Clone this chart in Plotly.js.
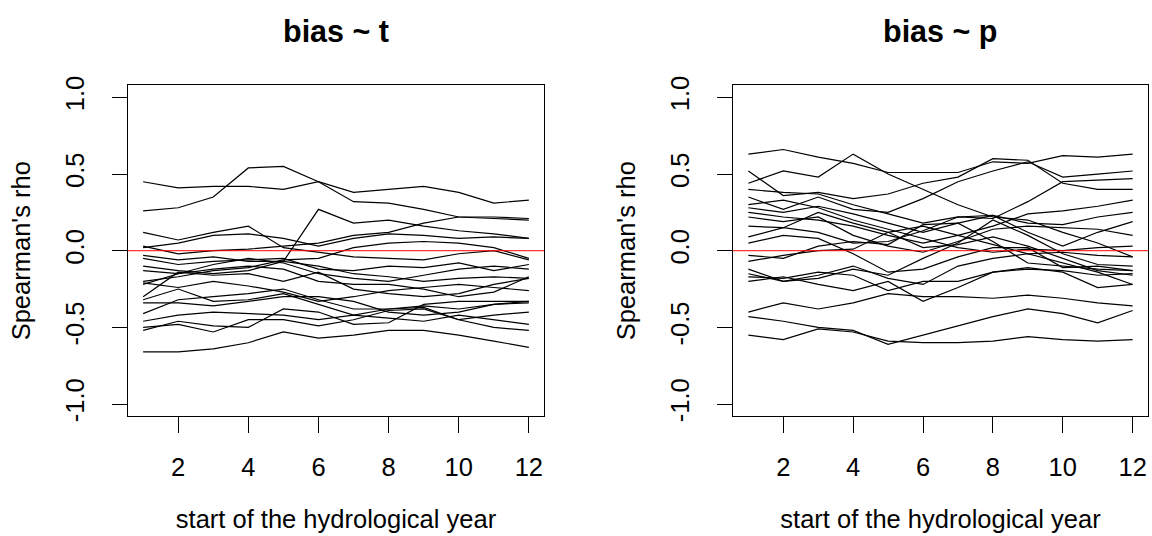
<!DOCTYPE html>
<html>
<head>
<meta charset="utf-8">
<script src="https://cdn.plot.ly/plotly-3.0.1.min.js"></script>
<style>html,body{margin:0;padding:0;background:#fff;} #plot{width:1152px;height:536px;}</style>
</head>
<body>
<div id="plot"></div>
<script>
// x values: start month of the hydrological year
var months = [1,2,3,4,5,6,7,8,9,10,11,12];
var xTickVals = [2,4,6,8,10,12];
var yTickVals = [-1,-0.5,0,0.5,1];
var yTickText = ["-1.0","-0.5","0.0","0.5","1.0"];
var titleT = "bias ~ t";
var titleP = "bias ~ p";
var xLabel = "start of the hydrological year";
var yLabel = "Spearman's rho";

// Spearman's rho, bias ~ t (one array per station)
var t01 = [0.45, 0.41, 0.42, 0.42, 0.40, 0.45, 0.38, 0.40, 0.42, 0.38, 0.31, 0.33];
var t02 = [0.26, 0.28, 0.35, 0.54, 0.55, 0.45, 0.32, 0.31, 0.27, 0.22, 0.21, 0.20];
var t03 = [-0.03, -0.06, -0.04, -0.07, -0.07, 0.27, 0.18, 0.20, 0.16, 0.13, 0.11, 0.08];
var t04 = [0.12, 0.07, 0.12, 0.16, 0.02, -0.01, -0.04, -0.05, -0.06, -0.02, 0.00, -0.06];
var t05 = [0.03, -0.02, 0.00, 0.01, 0.03, 0.05, 0.10, 0.12, 0.18, 0.22, 0.22, 0.21];
var t06 = [-0.10, -0.13, -0.15, -0.13, -0.07, -0.10, -0.15, -0.17, -0.20, -0.18, -0.17, -0.18];
var t07 = [-0.13, -0.15, -0.09, -0.05, -0.08, -0.15, -0.18, -0.20, -0.16, -0.12, -0.10, -0.12];
var t08 = [-0.20, -0.17, -0.13, -0.11, -0.06, -0.05, 0.02, 0.05, 0.06, 0.05, 0.02, -0.05];
var t09 = [-0.22, -0.15, -0.12, -0.10, -0.12, -0.20, -0.22, -0.22, -0.25, -0.30, -0.27, -0.17];
var t10 = [-0.30, -0.14, -0.16, -0.15, -0.20, -0.14, -0.25, -0.28, -0.30, -0.28, -0.22, -0.18];
var t11 = [-0.32, -0.25, -0.33, -0.32, -0.28, -0.35, -0.42, -0.38, -0.36, -0.38, -0.35, -0.33];
var t12 = [-0.34, -0.34, -0.36, -0.33, -0.30, -0.30, -0.33, -0.40, -0.42, -0.40, -0.35, -0.34];
var t13 = [-0.41, -0.32, -0.30, -0.28, -0.25, -0.32, -0.38, -0.38, -0.37, -0.45, -0.42, -0.40];
var t14 = [-0.46, -0.42, -0.40, -0.41, -0.42, -0.45, -0.42, -0.44, -0.46, -0.42, -0.45, -0.48];
var t15 = [-0.50, -0.48, -0.53, -0.45, -0.45, -0.49, -0.45, -0.39, -0.38, -0.45, -0.50, -0.52];
var t16 = [-0.66, -0.66, -0.64, -0.60, -0.53, -0.57, -0.55, -0.52, -0.52, -0.55, -0.59, -0.63];
var t17 = [-0.52, -0.46, -0.49, -0.50, -0.38, -0.40, -0.48, -0.47, -0.35, -0.33, -0.33, -0.33];
var t18 = [0.02, 0.05, 0.10, 0.11, 0.08, 0.03, 0.08, 0.11, 0.10, 0.08, 0.09, 0.08];
var t19 = [-0.21, -0.24, -0.20, -0.23, -0.27, -0.33, -0.30, -0.26, -0.24, -0.22, -0.24, -0.26];
var t20 = [-0.05, -0.09, -0.07, -0.06, -0.05, -0.12, -0.13, -0.10, -0.11, -0.08, -0.13, -0.09];

// Spearman's rho, bias ~ p
var p01 = [0.63, 0.66, 0.61, 0.57, 0.51, 0.51, 0.51, 0.58, 0.57, 0.62, 0.61, 0.63];
var p02 = [0.44, 0.52, 0.48, 0.63, 0.50, 0.40, 0.30, 0.22, 0.20, 0.12, 0.05, -0.04];
var p03 = [0.52, 0.36, 0.38, 0.34, 0.37, 0.44, 0.48, 0.60, 0.59, 0.44, 0.40, 0.40];
var p04 = [0.40, 0.38, 0.37, 0.30, 0.24, 0.18, 0.22, 0.21, 0.32, 0.45, 0.46, 0.47];
var p05 = [0.35, 0.27, 0.35, 0.27, 0.25, 0.34, 0.45, 0.52, 0.58, 0.48, 0.50, 0.52];
var p06 = [0.28, 0.25, 0.29, 0.24, 0.18, 0.12, 0.18, 0.23, 0.18, 0.17, 0.22, 0.25];
var p07 = [0.25, 0.22, 0.20, 0.16, 0.10, 0.05, 0.10, 0.16, 0.24, 0.26, 0.29, 0.33];
var p08 = [0.22, 0.19, 0.22, 0.10, 0.03, -0.01, 0.06, 0.14, 0.16, 0.15, 0.14, 0.10];
var p09 = [0.16, 0.15, 0.25, 0.18, 0.12, 0.02, 0.04, 0.09, 0.03, -0.05, -0.13, -0.16];
var p10 = [0.09, 0.15, 0.12, 0.05, 0.06, 0.13, 0.22, 0.23, 0.12, 0.03, 0.12, 0.19];
var p11 = [-0.03, -0.05, 0.03, 0.06, 0.04, 0.17, 0.18, 0.06, -0.08, -0.10, -0.12, -0.13];
var p12 = [-0.07, -0.03, 0.00, 0.01, 0.12, 0.16, 0.10, 0.04, -0.02, -0.01, -0.03, -0.04];
var p13 = [-0.12, -0.20, -0.18, -0.12, -0.16, -0.05, 0.05, 0.20, 0.10, -0.02, -0.09, -0.10];
var p14 = [-0.15, -0.20, -0.16, -0.10, -0.18, -0.22, -0.10, -0.05, -0.02, -0.08, -0.14, -0.22];
var p15 = [-0.17, -0.18, -0.14, -0.16, -0.26, -0.20, -0.20, -0.14, -0.12, -0.13, -0.16, -0.15];
var p16 = [-0.20, -0.17, -0.22, -0.26, -0.20, -0.33, -0.24, -0.14, -0.11, -0.14, -0.24, -0.22];
var p17 = [-0.40, -0.34, -0.38, -0.34, -0.28, -0.30, -0.30, -0.31, -0.29, -0.31, -0.34, -0.36];
var p18 = [-0.43, -0.46, -0.50, -0.52, -0.61, -0.55, -0.49, -0.43, -0.38, -0.41, -0.47, -0.39];
var p19 = [-0.55, -0.58, -0.51, -0.53, -0.59, -0.60, -0.60, -0.59, -0.56, -0.58, -0.59, -0.58];
var p20 = [0.05, 0.10, 0.08, -0.02, -0.14, -0.12, -0.04, 0.02, 0.02, -0.11, -0.10, -0.13];
var p21 = [0.30, 0.33, 0.28, 0.20, 0.14, 0.08, 0.02, -0.01, 0.01, 0.00, 0.02, 0.03];

var seriesT = [t01,t02,t03,t04,t05,t06,t07,t08,t09,t10,t11,t12,t13,t14,t15,t16,t17,t18,t19,t20];
var seriesP = [p01,p02,p03,p04,p05,p06,p07,p08,p09,p10,p11,p12,p13,p14,p15,p16,p17,p18,p19,p20,p21];

var traces = [];
seriesT.forEach(function(s){
  traces.push({x: months, y: s, xaxis: 'x', yaxis: 'y', type: 'scatter', mode: 'lines',
    line: {color: '#000', width: 1.2}, hoverinfo: 'skip', showlegend: false});
});
seriesP.forEach(function(s){
  traces.push({x: months, y: s, xaxis: 'x2', yaxis: 'y2', type: 'scatter', mode: 'lines',
    line: {color: '#000', width: 1.2}, hoverinfo: 'skip', showlegend: false});
});

var FONT = 'Liberation Sans, Arial, sans-serif';
function xax(dom){
  return {domain: dom, range: [0.56, 12.44], tickvals: xTickVals, ticks: 'outside', ticklen: 16,
    tickcolor: '#000', tickwidth: 1, showline: true, linecolor: '#000', linewidth: 1, mirror: true,
    showgrid: false, zeroline: false, ticklabelstandoff: 12,
    tickfont: {family: FONT, size: 25.5, color: '#000'},
    title: {text: xLabel, font: {family: FONT, size: 25.5, color: '#000'}, standoff: 30}};
}
function yax(){
  return {domain: [0.2233, 0.8412], range: [-1.08, 1.08], tickvals: yTickVals, ticktext: yTickText,
    tickangle: -90, ticks: 'outside', ticklen: 15, tickcolor: '#000', tickwidth: 1,
    showline: true, linecolor: '#000', linewidth: 1, mirror: true, showgrid: false, zeroline: false,
    ticklabelstandoff: 18,
    tickfont: {family: FONT, size: 25.5, color: '#000'},
    title: {text: yLabel, font: {family: FONT, size: 25.5, color: '#000'}, standoff: 22}};
}
var y1 = yax(), y2 = yax();
y2.anchor = 'x2';
var layout = {
  width: 1152, height: 536, margin: {l: 0, r: 0, t: 0, b: 0},
  paper_bgcolor: '#fff', plot_bgcolor: '#fff', showlegend: false,
  xaxis: Object.assign(xax([0.11085, 0.47248]), {anchor: 'y'}),
  xaxis2: Object.assign(xax([0.63628, 0.99653]), {anchor: 'y2'}),
  yaxis: Object.assign(y1, {anchor: 'x'}),
  yaxis2: y2,
  shapes: [
    {type: 'line', xref: 'x domain', yref: 'y', x0: 0, x1: 1, y0: 0, y1: 0, line: {color: '#ff0000', width: 1}},
    {type: 'line', xref: 'x2 domain', yref: 'y2', x0: 0, x1: 1, y0: 0, y1: 0, line: {color: '#ff0000', width: 1}}
  ],
  annotations: [
    {text: '<b>' + titleT + '</b>', xref: 'x domain', yref: 'paper', x: 0.5, y: 1 - 31/536, yanchor: 'middle',
     xanchor: 'center', showarrow: false, font: {family: FONT, size: 30.5, color: '#000'}},
    {text: '<b>' + titleP + '</b>', xref: 'x2 domain', yref: 'paper', x: 0.5, y: 1 - 31/536, yanchor: 'middle',
     xanchor: 'center', showarrow: false, font: {family: FONT, size: 30.5, color: '#000'}}
  ]
};
Plotly.newPlot('plot', traces, layout, {staticPlot: true, displayModeBar: false});
</script>
</body>
</html>
